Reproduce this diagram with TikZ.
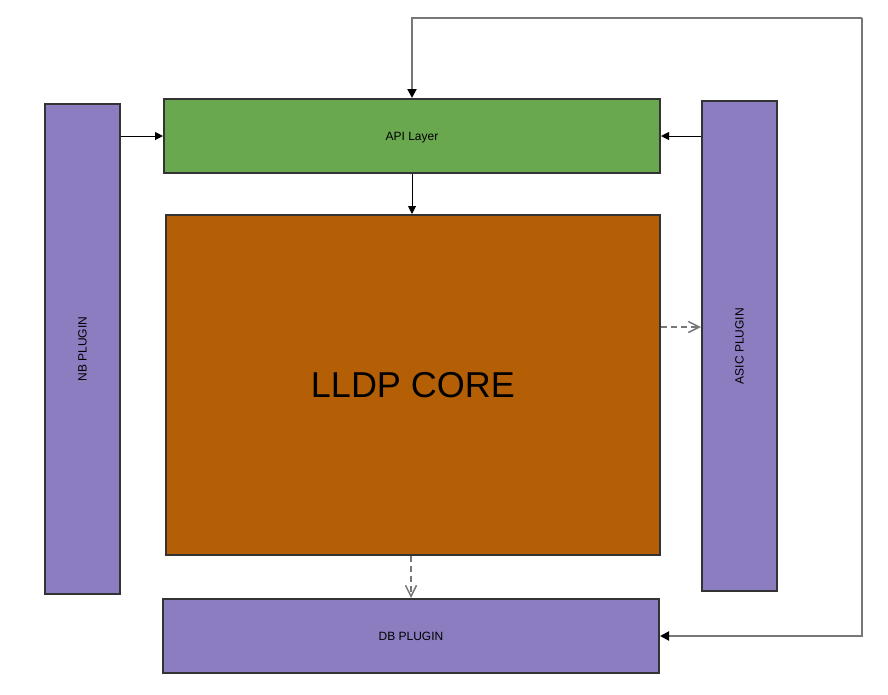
\documentclass[tikz,border=0pt]{standalone}
\usepackage{fontspec}
\setmainfont{Liberation Sans}
\usetikzlibrary{arrows.meta}
\definecolor{plug}{HTML}{8C7DC1}
\definecolor{apigreen}{HTML}{6AA84F}
\definecolor{corebrown}{HTML}{B45F06}
\definecolor{edge}{HTML}{333333}
\definecolor{wire}{HTML}{777777}
\tikzset{
	blk/.style={draw=edge, line width=2pt, inner sep=0pt, text depth=0pt, font=\fontsize{12}{14}\selectfont},
	plugin/.style={blk, fill=plug},
	arr/.style={-{Triangle[length=8pt,width=8pt]}, line width=1pt},
	dasharr/.style={-{Straight Barb[length=11pt,width=11pt]}, wire, dashed, line width=1.5pt, dash pattern=on 6pt off 4pt},
	loop/.style={-{Triangle[length=9pt,width=9pt,color=black]}, wire, line width=2pt}
}

\begin{document}
\begin{tikzpicture}[x=1pt,y=-1pt]
	\useasboundingbox (0,0) rectangle (888,694);
	\node[plugin, minimum width=75pt, minimum height=490pt] (nb) at (82.5,349) {\rotatebox{90}{NB PLUGIN}};
	\node[blk, fill=apigreen, minimum width=496pt, minimum height=74pt] (api) at (412,136) {API Layer};
	\node[blk, fill=corebrown, minimum width=494pt, minimum height=340pt, font=\fontsize{36}{40}\selectfont] (core) at (413,385) {LLDP CORE};
	\node[plugin, minimum width=75pt, minimum height=490pt] (asic) at (739.5,346) {\rotatebox{90}{ASIC PLUGIN}};
	\node[plugin, minimum width=496pt, minimum height=74pt] (db) at (411,636) {DB PLUGIN};
	\coordinate (corner) at (862,18);
	% solid links
	\draw[arr] (nb.east |- api.west) -- (api.west);
	\draw[arr] (asic.west |- api.east) -- (api.east);
	\draw[arr] (api.south) -- (api.south |- core.north);
	% dashed links
	\draw[dasharr] ([yshift=58pt]core.east) -- ([yshift=58pt]core.east -| asic.west);
	\draw[dasharr] (db.north |- core.south) -- (db.north);
	% loop round the right
	\draw[loop] (corner) -| (api.north);
	\draw[loop] (corner) |- (db.east);
\end{tikzpicture}
\end{document}
